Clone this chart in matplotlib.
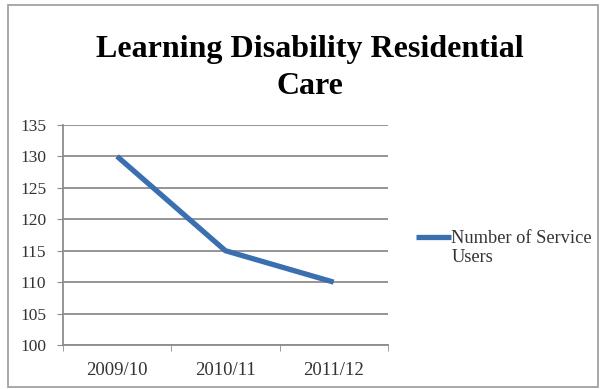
import numpy as np
import matplotlib.pyplot as plt
from matplotlib.lines import Line2D
from matplotlib.patches import Rectangle

years = ["2009/10", "2010/11", "2011/12"]
service_users = [130, 115, 110]
y_ticks = [100, 105, 110, 115, 120, 125, 130, 135]
series_label = ["Number of Service", "Users"]

serif = ["Liberation Serif", "DejaVu Serif"]
grid_grey = "#8c8c8c"

fig = plt.figure(figsize=(6.05, 3.89), dpi=100)
fig.patches.append(Rectangle((0.0132, 0.005), 0.975, 0.982, transform=fig.transFigure,
                             fill=False, edgecolor="#9a9a9a", linewidth=1.2))

ax = fig.add_axes([0.104, 0.113, 0.537, 0.566])
x = np.arange(len(years))
line, = ax.plot(x, service_users, color="#3a6fb0", linewidth=3.8,
                solid_capstyle="butt", label=" ".join(series_label))

ax.set_xlim(-0.5, len(years) - 0.5)
ax.set_ylim(y_ticks[0], y_ticks[-1])
ax.set_yticks(y_ticks)
ax.set_xticks(x)
ax.set_xticklabels(years)
ax.set_xticks(np.arange(len(years) + 1) - 0.5, minor=True)
ax.tick_params(axis="x", which="major", length=0, pad=12)
ax.tick_params(axis="x", which="minor", length=4, color=grid_grey, direction="out")
ax.tick_params(axis="y", length=4, color=grid_grey, pad=8)
for lbl in ax.get_yticklabels():
    lbl.set_family(serif)
    lbl.set_fontsize(12.5)
    lbl.set_color("#333333")
for lbl in ax.get_xticklabels():
    lbl.set_family(serif)
    lbl.set_fontsize(13.5)
    lbl.set_color("#333333")

ax.grid(axis="y", color=grid_grey, linewidth=1.3)
ax.set_axisbelow(True)
for side in ["top", "right"]:
    ax.spines[side].set_visible(False)
for side in ["left", "bottom"]:
    ax.spines[side].set_color(grid_grey)
    ax.spines[side].set_linewidth(1.3)

fig.text(0.512, 0.826, "Learning Disability Residential\nCare", ha="center", va="center",
         family=serif, fontweight="bold", fontsize=23, linespacing=1.38)

# the wrapped label sits on two rows with the line key beside the first row
blank = Line2D([], [], alpha=0)
fig.legend(handles=[line, blank], labels=series_label, loc="center left",
           bbox_to_anchor=(0.667, 0.362), frameon=False, handlelength=1.9,
           handletextpad=0.0, borderpad=0.2, labelspacing=0.12,
           prop={"family": serif, "size": 13.2})
for t in fig.legends[0].get_texts():
    t.set_color("#333333")

fig.savefig("out.png", dpi=100)
